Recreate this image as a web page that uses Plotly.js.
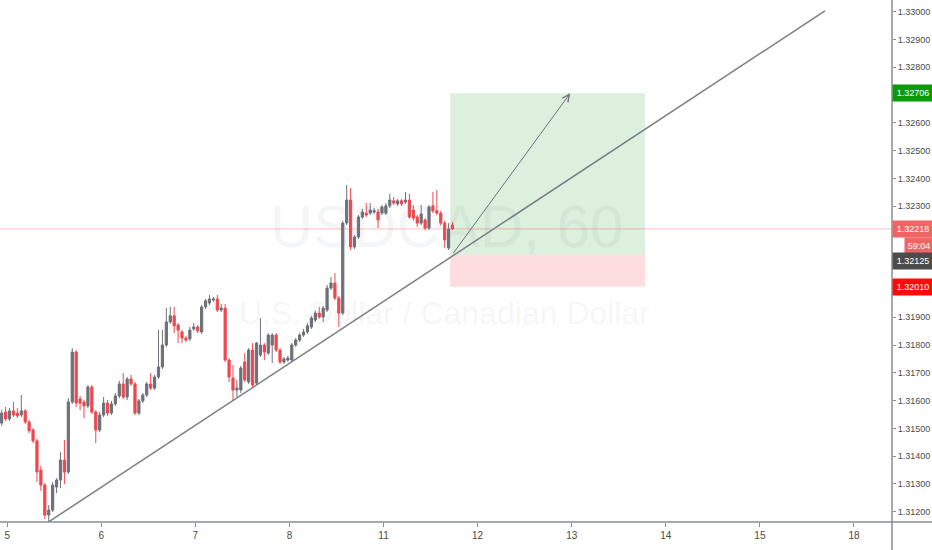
<!DOCTYPE html>
<html>
<head>
<meta charset="utf-8">
<script src="https://cdn.plot.ly/plotly-3.0.1.min.js"></script>
<style>html,body{margin:0;padding:0;background:#fff;}#chart{width:932px;height:550px;}</style>
</head>
<body>
<div id="chart"></div>
<script>
// ---- Data (USDCAD, 60 min candles) ----
const dayLabels = ['5','6','7','8','11','12','13','14','15','18'];
const open  = [1.31519,1.31559,1.31534,1.31563,1.31555,1.31548,1.31563,1.31523,1.31494,1.31455,
1.31350,1.31296,1.31188,1.31206,1.31289,1.31314,1.31386,1.31343,1.31595,1.31775,
1.31606,1.31595,1.31581,1.31649,1.31559,1.31494,1.31548,1.31591,1.31555,1.31588,
1.31617,1.31660,1.31613,1.31678,1.31660,1.31555,1.31599,1.31620,1.31660,1.31645,
1.31685,1.31721,1.31800,1.31883,1.31905,1.31872,1.31847,1.31825,1.31822,1.31858,
1.31865,1.31847,1.31937,1.31951,1.31962,1.31966,1.31926,1.31933,1.31746,1.31681,
1.31638,1.31638,1.31739,1.31667,1.31782,1.31663,1.31764,1.31800,1.31771,1.31800,
1.31836,1.31782,1.31739,1.31746,1.31746,1.31800,1.31818,1.31836,1.31847,1.31865,
1.31890,1.31915,1.31901,1.31926,1.32005,1.32023,1.31969,1.31915,1.32239,1.32322,
1.32153,1.32189,1.32261,1.32275,1.32275,1.32279,1.32279,1.32275,1.32275,1.32301,
1.32319,1.32308,1.32319,1.32315,1.32322,1.32286,1.32261,1.32239,1.32250,1.32221,
1.32301,1.32283,1.32275,1.32239,1.32149,1.32232];
const high  = [1.31566,1.31577,1.31573,1.31595,1.31573,1.31620,1.31570,1.31530,1.31501,1.31462,
1.31365,1.31303,1.31224,1.31307,1.31321,1.31415,1.31458,1.31609,1.31789,1.31782,
1.31617,1.31602,1.31656,1.31656,1.31566,1.31559,1.31613,1.31602,1.31599,1.31627,
1.31671,1.31699,1.31685,1.31692,1.31667,1.31606,1.31627,1.31667,1.31699,1.31692,
1.31854,1.31854,1.31933,1.31937,1.31937,1.31879,1.31854,1.31833,1.31865,1.31879,
1.31872,1.31944,1.31966,1.31980,1.31973,1.31980,1.31948,1.31948,1.31753,1.31728,
1.31674,1.31725,1.31771,1.31789,1.31807,1.31811,1.31897,1.31807,1.31843,1.31843,
1.31843,1.31789,1.31757,1.31761,1.31807,1.31825,1.31843,1.31858,1.31879,1.31905,
1.31923,1.31937,1.31941,1.32016,1.32045,1.32059,1.31977,1.32247,1.32376,1.32365,
1.32196,1.32268,1.32290,1.32311,1.32311,1.32293,1.32290,1.32304,1.32311,1.32344,
1.32333,1.32326,1.32326,1.32351,1.32344,1.32304,1.32268,1.32304,1.32257,1.32304,
1.32351,1.32358,1.32283,1.32247,1.32239,1.32243];
const low   = [1.31509,1.31527,1.31527,1.31541,1.31537,1.31541,1.31516,1.31483,1.31447,1.31307,
1.31275,1.31174,1.31159,1.31199,1.31267,1.31285,1.31300,1.31336,1.31588,1.31577,
1.31566,1.31537,1.31573,1.31552,1.31447,1.31487,1.31541,1.31545,1.31548,1.31581,
1.31609,1.31606,1.31602,1.31653,1.31548,1.31548,1.31591,1.31613,1.31638,1.31638,
1.31678,1.31714,1.31793,1.31876,1.31843,1.31807,1.31807,1.31811,1.31815,1.31851,
1.31843,1.31840,1.31930,1.31944,1.31955,1.31919,1.31919,1.31739,1.31667,1.31602,
1.31613,1.31627,1.31667,1.31660,1.31649,1.31656,1.31757,1.31746,1.31764,1.31735,
1.31775,1.31732,1.31732,1.31739,1.31739,1.31793,1.31811,1.31829,1.31840,1.31858,
1.31883,1.31894,1.31883,1.31919,1.31998,1.31962,1.31865,1.31908,1.32232,1.32142,
1.32146,1.32182,1.32254,1.32261,1.32268,1.32272,1.32221,1.32268,1.32268,1.32293,
1.32304,1.32301,1.32301,1.32308,1.32254,1.32247,1.32225,1.32232,1.32214,1.32214,
1.32275,1.32268,1.32229,1.32149,1.32142,1.32214];
const close = [1.31555,1.31534,1.31563,1.31548,1.31545,1.31563,1.31523,1.31491,1.31455,1.31343,
1.31296,1.31188,1.31206,1.31296,1.31314,1.31386,1.31343,1.31595,1.31775,1.31591,
1.31591,1.31581,1.31649,1.31559,1.31494,1.31548,1.31591,1.31555,1.31588,1.31617,
1.31660,1.31613,1.31678,1.31660,1.31555,1.31599,1.31620,1.31660,1.31645,1.31685,
1.31721,1.31800,1.31883,1.31905,1.31869,1.31854,1.31825,1.31818,1.31854,1.31865,
1.31851,1.31937,1.31959,1.31966,1.31966,1.31926,1.31933,1.31746,1.31685,1.31638,
1.31645,1.31717,1.31674,1.31782,1.31656,1.31807,1.31800,1.31775,1.31836,1.31836,
1.31782,1.31739,1.31750,1.31753,1.31800,1.31818,1.31836,1.31847,1.31869,1.31897,
1.31915,1.31901,1.31933,1.32005,1.32023,1.31969,1.31915,1.32239,1.32322,1.32153,
1.32189,1.32261,1.32279,1.32268,1.32286,1.32283,1.32250,1.32297,1.32301,1.32322,
1.32311,1.32319,1.32308,1.32322,1.32261,1.32257,1.32239,1.32272,1.32221,1.32297,
1.32283,1.32275,1.32239,1.32178,1.32218,1.32218];
// visible price-scale ticks (1.32000, 1.32100, 1.32200, 1.32700 are hidden under price labels)
const yTickLabels = ['1.31200','1.31300','1.31400','1.31500','1.31600','1.31700','1.31800','1.31900',
'1.32300','1.32400','1.32500','1.32600','1.32800','1.32900','1.33000'];
// Long position drawing
const entryPrice = 1.32125, targetPrice = 1.32706, stopPrice = 1.32010;
const positionBars = [114.4, 164.1];
// Trendline drawing (bar index, price)
const trendBars = [11.5, 210];
const trendPrices = [1.31159, 1.33003];
const countdown = '59:04';

// ---- Chart ----
const x = open.map((_, i) => i);
const lastPrice = close[close.length - 1];
const upC = '#6d7079', dnC = '#f0474f';
const axisC = '#8a8d96';
const FONT = '"Liberation Sans",Arial,sans-serif';

const trace = {
  type: 'candlestick', x: x, open: open, high: high, low: low, close: close,
  increasing: {line: {color: upC, width: 1}, fillcolor: upC},
  decreasing: {line: {color: dnC, width: 1}, fillcolor: dnC},
  whiskerwidth: 0, hoverinfo: 'skip', showlegend: false
};

function priceLabel(p, bg, extra) {
  return Object.assign({
    xref: 'paper', x: 1, xanchor: 'left', yref: 'y', y: p, yanchor: 'middle',
    text: p.toFixed(5), showarrow: false, bgcolor: bg, width: 38, height: 14, borderpad: 1,
    font: {family: FONT, size: 9, color: '#ffffff'}
  }, extra || {});
}

const layout = {
  width: 932, height: 550,
  margin: {l: 0, r: 40, t: 0, b: 28, pad: 0},
  paper_bgcolor: '#ffffff', plot_bgcolor: '#ffffff',
  showlegend: false,
  boxgap: 0.2,
  xaxis: {
    range: [-0.43, 227.1], showgrid: false, zeroline: false, showline: false,
    rangeslider: {visible: false},
    tickmode: 'array', tickvals: dayLabels.map((_, k) => 1.4 + 24 * k), ticktext: dayLabels,
    ticks: 'outside', ticklen: 4, tickcolor: axisC, tickwidth: 1,
    tickfont: {family: FONT, size: 10, color: '#4a4a4a'}, fixedrange: true
  },
  yaxis: {
    side: 'right', range: [1.31163, 1.33042], showgrid: false, zeroline: false, showline: false,
    tickmode: 'array', tickvals: yTickLabels.map(Number), ticktext: yTickLabels,
    ticks: 'outside', ticklen: 3, tickcolor: axisC, tickwidth: 1,
    tickfont: {family: FONT, size: 9, color: '#4a4a4a'}, fixedrange: true
  },
  shapes: [
    {type: 'rect', xref: 'x', yref: 'y', x0: positionBars[0], x1: positionBars[1], y0: entryPrice, y1: targetPrice,
     fillcolor: 'rgba(76,175,80,0.19)', line: {width: 0}, layer: 'below'},
    {type: 'rect', xref: 'x', yref: 'y', x0: positionBars[0], x1: positionBars[1], y0: stopPrice, y1: entryPrice,
     fillcolor: 'rgba(242,54,69,0.17)', line: {width: 0}, layer: 'below'},
    {type: 'line', xref: 'paper', x0: 0, x1: 1, yref: 'y', y0: lastPrice, y1: lastPrice,
     line: {color: 'rgba(240,71,79,0.35)', width: 1}},
    {type: 'line', xref: 'x', yref: 'y', x0: trendBars[0], x1: trendBars[1], y0: trendPrices[0], y1: trendPrices[1],
     line: {color: '#7b7e87', width: 1.5}},
    {type: 'line', xref: 'paper', yref: 'paper', x0: 0, x1: 932 / 892, y0: 0, y1: 0, line: {color: axisC, width: 1.5}},
    {type: 'line', xref: 'paper', yref: 'paper', x0: 1, x1: 1, y0: -28 / 522, y1: 1, line: {color: axisC, width: 1.5}}
  ],
  annotations: [
    {xref: 'paper', yref: 'paper', x: 0.501, y: 0.566, text: 'USDCAD, 60', showarrow: false,
     xanchor: 'center', yanchor: 'middle', font: {family: FONT, size: 60, color: 'rgba(120,123,134,0.08)'}},
    {xref: 'paper', yref: 'paper', x: 0.498, y: 0.40, text: 'U.S. Dollar / Canadian Dollar', showarrow: false,
     xanchor: 'center', yanchor: 'middle', font: {family: FONT, size: 32, color: 'rgba(120,123,134,0.08)'}},
    {xref: 'x', yref: 'y', x: 145, y: targetPrice, axref: 'x', ayref: 'y', ax: positionBars[0] + 0.5, ay: entryPrice,
     showarrow: true, arrowhead: 5, arrowsize: 1.4, arrowwidth: 1, arrowcolor: '#6f727b', text: ''},
    priceLabel(targetPrice, '#0a9a0a'),
    priceLabel(lastPrice, '#f06464'),
    {xref: 'paper', x: 1, xanchor: 'left', xshift: 12, yref: 'y', y: lastPrice, yanchor: 'middle', yshift: -17,
     text: countdown, showarrow: false, bgcolor: '#f06464', width: 26, height: 14, borderpad: 1,
     font: {family: FONT, size: 9, color: '#ffffff'}},
    priceLabel(entryPrice, '#4c4c4c', {yshift: -6}),
    priceLabel(stopPrice, '#ff0a0a')
  ]
};

Plotly.newPlot('chart', [trace], layout, {staticPlot: true, displayModeBar: false});
</script>
</body>
</html>
